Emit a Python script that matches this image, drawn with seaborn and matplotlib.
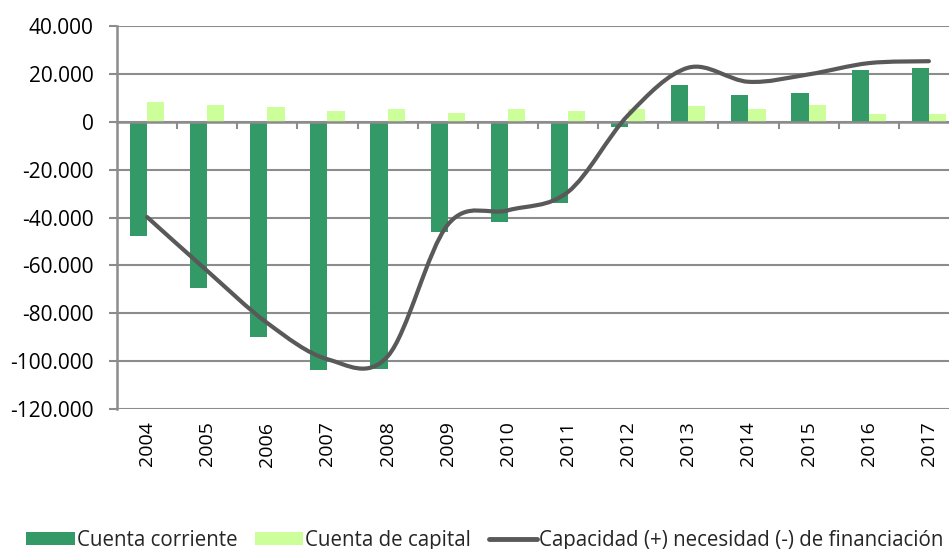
import matplotlib
matplotlib.use("Agg")
import matplotlib.pyplot as plt
import seaborn as sns
import numpy as np
import pandas as pd
from matplotlib.path import Path
from matplotlib.patches import PathPatch, Patch
from matplotlib.lines import Line2D
from matplotlib.ticker import FuncFormatter, MultipleLocator

# datos (millones de euros)
years = ['2004', '2005', '2006', '2007', '2008', '2009', '2010',
         '2011', '2012', '2013', '2014', '2015', '2016', '2017']
cuenta_corriente = [-47600, -69500, -90100, -103900, -103300, -46100, -42000,
                    -34000, -2300, 15500, 11300, 12000, 21700, 22400]
cuenta_capital = [8100, 7200, 6000, 4700, 5300, 3800, 5300,
                  4600, 5300, 6700, 5300, 7200, 3200, 3200]
capacidad = [-39800, -62300, -84100, -99200, -98000, -43000, -37000,
             -29300, 2800, 22600, 16700, 19800, 24500, 25300]

series_names = ['Cuenta corriente', 'Cuenta de capital']
line_name = 'Capacidad (+) necesidad (-) de financiación'
colors = ['#339966', '#ccff99']
line_color = '#595959'
grid_color = '#8c8c8c'

sns.set_style('white')
plt.rcParams['font.family'] = ['Open Sans', 'DejaVu Sans']

df = pd.DataFrame({
    'year': years * 2,
    'value': cuenta_corriente + cuenta_capital,
    'serie': [series_names[0]] * len(years) + [series_names[1]] * len(years),
})

fig = plt.figure(figsize=(9.49, 5.49), dpi=100)
ax = fig.add_axes([0.1233, 0.255, 0.8872, 0.6976])

sns.barplot(data=df, x='year', y='value', hue='serie', palette=colors,
            width=0.57, linewidth=0, saturation=1, ax=ax, legend=False)

# linea suavizada (estilo Excel, bezier tipo Catmull-Rom)
xs = np.arange(len(years), dtype=float)
ys = np.array(capacidad, dtype=float)
verts = [(xs[0], ys[0])]
codes = [Path.MOVETO]
n = len(xs)
for i in range(n - 1):
    p0 = np.array([xs[max(i - 1, 0)], ys[max(i - 1, 0)]])
    p1 = np.array([xs[i], ys[i]])
    p2 = np.array([xs[i + 1], ys[i + 1]])
    p3 = np.array([xs[min(i + 2, n - 1)], ys[min(i + 2, n - 1)]])
    c1 = p1 + (p2 - p0) / 6
    c2 = p2 - (p3 - p1) / 6
    verts += [tuple(c1), tuple(c2), tuple(p2)]
    codes += [Path.CURVE4] * 3
ax.add_patch(PathPatch(Path(verts, codes), facecolor='none', edgecolor=line_color,
                       lw=3, capstyle='round', joinstyle='round', zorder=4))

ax.set_xlim(-0.5, len(years) - 0.5)
ax.set_ylim(-120000, 40000)
ax.yaxis.set_major_locator(MultipleLocator(20000))
ax.yaxis.set_major_formatter(FuncFormatter(lambda v, p: f"{int(v):,}".replace(',', '.')))
ax.yaxis.grid(True, color=grid_color, lw=1.5)
ax.set_axisbelow(True)
ax.set_xlabel('')
ax.set_ylabel('')

for s in ['top', 'right']:
    ax.spines[s].set_visible(False)
ax.spines['left'].set_color(grid_color)
ax.spines['left'].set_linewidth(1.8)
ax.spines['bottom'].set_position(('data', 0))
ax.spines['bottom'].set_color(grid_color)
ax.spines['bottom'].set_linewidth(1.8)

ax.tick_params(axis='y', left=True, length=6, width=1.5, color=grid_color,
               pad=11, labelsize=15, labelcolor='black')
ax.set_xticks([])
ax.set_xticks(np.arange(0.5, len(years), 1), minor=True)
ax.tick_params(axis='x', which='minor', bottom=True, length=5, width=1.5,
               color=grid_color, direction='out')

sec = ax.secondary_xaxis('bottom')
sec.set_xticks(range(len(years)), labels=years, rotation=90)
sec.tick_params(length=0, pad=9, labelsize=14, labelcolor='black')
sec.spines['bottom'].set_visible(False)

handles = [Patch(facecolor=colors[0], edgecolor='none'),
           Patch(facecolor=colors[1], edgecolor='none'),
           Line2D([0], [0], color=line_color, lw=3.5, solid_capstyle='round')]
fig.legend(handles, series_names + [line_name], loc='center',
           bbox_to_anchor=(0.511, 0.016), ncol=3, frameon=False,
           fontsize=14.8, handlelength=2.35, handleheight=0.65,
           handletextpad=0.1, columnspacing=0.85, borderpad=0.1)

fig.savefig('out.png', dpi=100)
